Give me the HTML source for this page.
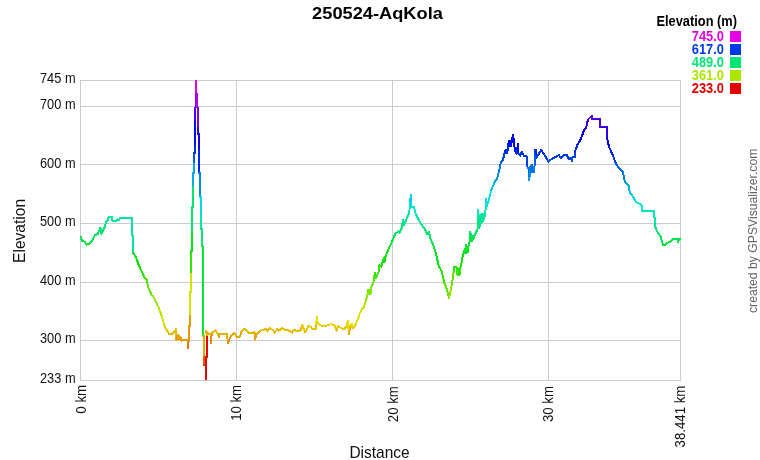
<!DOCTYPE html>
<html><head><meta charset="utf-8"><title>250524-AqKola</title>
<style>
html,body{margin:0;padding:0;background:#fff;}
body{width:760px;height:460px;overflow:hidden;font-family:"Liberation Sans",sans-serif;}
svg{display:block;font-family:"Liberation Sans",sans-serif;will-change:transform;}
</style></head><body>
<svg width="760" height="460" viewBox="0 0 760 460">
<rect width="760" height="460" fill="#fff"/>
<g stroke="#cccccc" stroke-width="1" fill="none" shape-rendering="crispEdges">
<rect x="80.5" y="80.5" width="600" height="300"/>
<line x1="80" y1="106.5" x2="681" y2="106.5"/>
<line x1="80" y1="164.5" x2="681" y2="164.5"/>
<line x1="80" y1="223.5" x2="681" y2="223.5"/>
<line x1="80" y1="282.5" x2="681" y2="282.5"/>
<line x1="80" y1="340.5" x2="681" y2="340.5"/>
<line x1="236.5" y1="80" x2="236.5" y2="381"/>
<line x1="392.5" y1="80" x2="392.5" y2="381"/>
<line x1="548.5" y1="80" x2="548.5" y2="381"/>
</g>
<g fill="#111" font-size="13.8">
<text x="75.6" y="82.7" text-anchor="end" textLength="35.6" lengthAdjust="spacingAndGlyphs">745 m</text>
<text x="75.6" y="109.1" text-anchor="end" textLength="35.6" lengthAdjust="spacingAndGlyphs">700 m</text>
<text x="75.6" y="167.7" text-anchor="end" textLength="35.6" lengthAdjust="spacingAndGlyphs">600 m</text>
<text x="75.6" y="226.3" text-anchor="end" textLength="35.6" lengthAdjust="spacingAndGlyphs">500 m</text>
<text x="75.6" y="284.8" text-anchor="end" textLength="35.6" lengthAdjust="spacingAndGlyphs">400 m</text>
<text x="75.6" y="343.4" text-anchor="end" textLength="35.6" lengthAdjust="spacingAndGlyphs">300 m</text>
<text x="75.6" y="382.7" text-anchor="end" textLength="35.6" lengthAdjust="spacingAndGlyphs">233 m</text>
<text transform="translate(85.5,384.9) rotate(-90)" text-anchor="end" textLength="28.8" lengthAdjust="spacingAndGlyphs">0 km</text>
<text transform="translate(241.1,384.9) rotate(-90)" text-anchor="end" textLength="35.9" lengthAdjust="spacingAndGlyphs">10 km</text>
<text transform="translate(397.8,386.3) rotate(-90)" text-anchor="end" textLength="35.9" lengthAdjust="spacingAndGlyphs">20 km</text>
<text transform="translate(553.3,386.1) rotate(-90)" text-anchor="end" textLength="35.9" lengthAdjust="spacingAndGlyphs">30 km</text>
<text transform="translate(685.4,385.6) rotate(-90)" text-anchor="end" textLength="61.8" lengthAdjust="spacingAndGlyphs">38.441 km</text>
</g>
<text x="377.5" y="18.5" text-anchor="middle" font-weight="bold" font-size="17.3" fill="#000" textLength="130.8" lengthAdjust="spacingAndGlyphs">250524-AqKola</text>
<text x="379.5" y="457.5" text-anchor="middle" font-size="17" fill="#111" textLength="60.2" lengthAdjust="spacingAndGlyphs">Distance</text>
<text transform="translate(25.0,230.9) rotate(-90)" text-anchor="middle" font-size="17" fill="#111" textLength="64" lengthAdjust="spacingAndGlyphs">Elevation</text>
<text transform="translate(757.0,313.0) rotate(-90)" text-anchor="start" font-size="12.8" fill="#666" textLength="164.4" lengthAdjust="spacingAndGlyphs">created by GPSVisualizer.com</text>
<text x="737" y="26" text-anchor="end" font-weight="bold" font-size="14.3" fill="#000" textLength="80.5" lengthAdjust="spacingAndGlyphs">Elevation (m)</text>
<rect x="730" y="31" width="11" height="11" fill="#e600e6"/>
<text x="724" y="41.3" text-anchor="end" fill="#e600e6" font-weight="bold" font-size="13.9" textLength="32.2" lengthAdjust="spacingAndGlyphs">745.0</text>
<rect x="730" y="44" width="11" height="11" fill="#0039e6"/>
<text x="724" y="54.3" text-anchor="end" fill="#0039e6" font-weight="bold" font-size="13.9" textLength="32.2" lengthAdjust="spacingAndGlyphs">617.0</text>
<rect x="730" y="57" width="11" height="11" fill="#00e673"/>
<text x="724" y="67.3" text-anchor="end" fill="#00e673" font-weight="bold" font-size="13.9" textLength="32.2" lengthAdjust="spacingAndGlyphs">489.0</text>
<rect x="730" y="70" width="11" height="11" fill="#ace600"/>
<text x="724" y="80.3" text-anchor="end" fill="#ace600" font-weight="bold" font-size="13.9" textLength="32.2" lengthAdjust="spacingAndGlyphs">361.0</text>
<rect x="730" y="83" width="11" height="11" fill="#e60000"/>
<text x="724" y="93.3" text-anchor="end" fill="#e60000" font-weight="bold" font-size="13.9" textLength="32.2" lengthAdjust="spacingAndGlyphs">233.0</text>
<g stroke-width="2" stroke-linecap="round" fill="none" shape-rendering="crispEdges">
<line x1="80.6" y1="236.8" x2="82" y2="240.8" stroke="#00e659"/>
<line x1="82" y1="240.8" x2="84.6" y2="241.8" stroke="#00e649"/>
<line x1="84.6" y1="241.8" x2="86.5" y2="244.5" stroke="#00e646"/>
<line x1="86.5" y1="244.5" x2="89.2" y2="244" stroke="#00e63b"/>
<line x1="89.2" y1="244" x2="91.8" y2="241.4" stroke="#00e63d"/>
<line x1="91.8" y1="241.4" x2="95.1" y2="234.9" stroke="#00e647"/>
<line x1="95.1" y1="234.9" x2="97.7" y2="234.2" stroke="#00e660"/>
<line x1="97.7" y1="234.2" x2="100.4" y2="227.6" stroke="#00e663"/>
<line x1="100.4" y1="227.6" x2="101.4" y2="233.5" stroke="#00e67c"/>
<line x1="101.4" y1="233.5" x2="104.3" y2="228.3" stroke="#00e665"/>
<line x1="104.3" y1="228.3" x2="106.3" y2="221.7" stroke="#00e679"/>
<line x1="106.3" y1="221.7" x2="107.6" y2="220.4" stroke="#00e692"/>
<line x1="107.6" y1="220.4" x2="108.5" y2="217.1" stroke="#00e697"/>
<line x1="108.5" y1="217.1" x2="112" y2="217.1" stroke="#00e6a4"/>
<line x1="112" y1="217.1" x2="112.2" y2="220.6" stroke="#00e6a4"/>
<line x1="112.2" y1="220.6" x2="116.8" y2="220.6" stroke="#00e697"/>
<line x1="116.8" y1="220.6" x2="117.5" y2="219.5" stroke="#00e697"/>
<line x1="117.5" y1="219.5" x2="118.8" y2="220.4" stroke="#00e69b"/>
<line x1="118.8" y1="220.4" x2="119.8" y2="218" stroke="#00e697"/>
<line x1="119.8" y1="218" x2="132" y2="218" stroke="#00e6a1"/>
<line x1="132" y1="218" x2="132" y2="234.9" stroke="#00e6a1"/>
<line x1="132" y1="234.9" x2="133" y2="235.5" stroke="#00e6a1"/>
<line x1="133" y1="235.5" x2="133" y2="252.6" stroke="#00e6a1"/>
<line x1="133" y1="252.6" x2="135.9" y2="257.1" stroke="#00e61c"/>
<line x1="135.9" y1="257.1" x2="138.5" y2="264.3" stroke="#00e60b"/>
<line x1="138.5" y1="264.3" x2="141.2" y2="270.3" stroke="#10e600"/>
<line x1="141.2" y1="270.3" x2="144.4" y2="277.5" stroke="#27e600"/>
<line x1="144.4" y1="277.5" x2="147.1" y2="279.5" stroke="#43e600"/>
<line x1="147.1" y1="279.5" x2="147.7" y2="286" stroke="#4be600"/>
<line x1="147.7" y1="286" x2="151.7" y2="295.3" stroke="#63e600"/>
<line x1="151.7" y1="295.3" x2="153.2" y2="296.3" stroke="#87e600"/>
<line x1="153.2" y1="296.3" x2="158.4" y2="306.8" stroke="#8be600"/>
<line x1="158.4" y1="306.8" x2="161.7" y2="316" stroke="#b3e600"/>
<line x1="161.7" y1="316" x2="165" y2="327.2" stroke="#d6e600"/>
<line x1="165" y1="327.2" x2="168.9" y2="333.8" stroke="#e6ca00"/>
<line x1="168.9" y1="333.8" x2="172.2" y2="333.8" stroke="#e6b100"/>
<line x1="172.2" y1="333.8" x2="176.2" y2="329.2" stroke="#e6b100"/>
<line x1="176.2" y1="329.2" x2="176.2" y2="339.7" stroke="#e6c200"/>
<line x1="176.2" y1="339.7" x2="177.5" y2="335.1" stroke="#e69a00"/>
<line x1="177.5" y1="335.1" x2="178" y2="339" stroke="#e6ac00"/>
<line x1="178" y1="339" x2="178.6" y2="335.5" stroke="#e69d00"/>
<line x1="178.6" y1="335.5" x2="179.2" y2="339.5" stroke="#e6aa00"/>
<line x1="179.2" y1="339.5" x2="179.8" y2="336.5" stroke="#e69b00"/>
<line x1="179.8" y1="336.5" x2="180.4" y2="340" stroke="#e6a600"/>
<line x1="180.4" y1="340" x2="180.8" y2="337.8" stroke="#e69900"/>
<line x1="180.8" y1="337.8" x2="181.4" y2="341" stroke="#e6a100"/>
<line x1="181.4" y1="341" x2="183.4" y2="339.7" stroke="#e69500"/>
<line x1="183.4" y1="339.7" x2="187.4" y2="339.7" stroke="#e69a00"/>
<line x1="187.4" y1="339.7" x2="188" y2="348.3" stroke="#e69a00"/>
<line x1="188" y1="348.3" x2="188.7" y2="339.7" stroke="#e67900"/>
<line x1="188.7" y1="339.7" x2="189" y2="340" stroke="#e69a00"/>
<line x1="189" y1="340" x2="189" y2="326" stroke="#e69900"/>
<line x1="189" y1="326" x2="190" y2="326" stroke="#e69900"/>
<line x1="190" y1="326" x2="190" y2="314" stroke="#e69900"/>
<line x1="190" y1="314" x2="190" y2="292" stroke="#cfe600"/>
<line x1="190" y1="292" x2="191" y2="292" stroke="#cfe600"/>
<line x1="191" y1="292" x2="191" y2="272" stroke="#cfe600"/>
<line x1="191" y1="272" x2="191" y2="251" stroke="#2ee600"/>
<line x1="191" y1="251" x2="192" y2="251" stroke="#00e622"/>
<line x1="192" y1="251" x2="192" y2="231" stroke="#00e622"/>
<line x1="192" y1="231" x2="192" y2="207" stroke="#00e66f"/>
<line x1="192" y1="207" x2="193" y2="207" stroke="#00e66f"/>
<line x1="193" y1="207" x2="193" y2="185" stroke="#00e66f"/>
<line x1="193" y1="185" x2="193" y2="173" stroke="#00ace6"/>
<line x1="193" y1="173" x2="194" y2="173" stroke="#00ace6"/>
<line x1="194" y1="173" x2="194" y2="162.5" stroke="#00ace6"/>
<line x1="194" y1="162.5" x2="194" y2="153" stroke="#0056e6"/>
<line x1="194" y1="153" x2="195" y2="153" stroke="#0032e6"/>
<line x1="195" y1="153" x2="195" y2="145" stroke="#0032e6"/>
<line x1="195" y1="145" x2="195" y2="120" stroke="#0013e6"/>
<line x1="195" y1="120" x2="195" y2="107.5" stroke="#4c00e6"/>
<line x1="195" y1="107.5" x2="196" y2="107.5" stroke="#7c00e6"/>
<line x1="196" y1="107.5" x2="196" y2="93" stroke="#7c00e6"/>
<line x1="196" y1="93" x2="196" y2="81" stroke="#b400e6"/>
<line x1="196" y1="81" x2="196" y2="93" stroke="#e200e6"/>
<line x1="196" y1="93" x2="196.6" y2="93" stroke="#b400e6"/>
<line x1="196.6" y1="93" x2="196.6" y2="107.5" stroke="#b400e6"/>
<line x1="196.6" y1="107.5" x2="198" y2="107.5" stroke="#7c00e6"/>
<line x1="198" y1="107.5" x2="198" y2="128" stroke="#7c00e6"/>
<line x1="198" y1="128" x2="198" y2="134" stroke="#2e00e6"/>
<line x1="198" y1="134" x2="199" y2="134" stroke="#1700e6"/>
<line x1="199" y1="134" x2="199" y2="150" stroke="#1700e6"/>
<line x1="199" y1="150" x2="199" y2="173" stroke="#0026e6"/>
<line x1="199" y1="173" x2="200" y2="173" stroke="#007ee6"/>
<line x1="200" y1="173" x2="200" y2="178" stroke="#007ee6"/>
<line x1="200" y1="178" x2="200" y2="197" stroke="#0091e6"/>
<line x1="200" y1="197" x2="201" y2="197" stroke="#00dae6"/>
<line x1="201" y1="197" x2="201" y2="215" stroke="#00dae6"/>
<line x1="201" y1="215" x2="201" y2="229" stroke="#00e6ac"/>
<line x1="201" y1="229" x2="202" y2="229" stroke="#00e677"/>
<line x1="202" y1="229" x2="202" y2="246.6" stroke="#00e677"/>
<line x1="202" y1="246.6" x2="203" y2="246.6" stroke="#00e633"/>
<line x1="203" y1="246.6" x2="203" y2="336" stroke="#00e633"/>
<line x1="203" y1="336" x2="204" y2="336" stroke="#e6a800"/>
<line x1="204" y1="336" x2="204" y2="357" stroke="#e6a800"/>
<line x1="204" y1="357" x2="204" y2="365" stroke="#e65800"/>
<line x1="204" y1="365" x2="206" y2="365" stroke="#e63900"/>
<line x1="206" y1="365" x2="206" y2="379" stroke="#e63900"/>
<line x1="206" y1="379" x2="206" y2="357" stroke="#e60400"/>
<line x1="206" y1="357" x2="206.7" y2="357" stroke="#e60400"/>
<line x1="206.7" y1="357" x2="206.7" y2="335" stroke="#e60400"/>
<line x1="206.7" y1="335" x2="205.8" y2="331.2" stroke="#e6ac00"/>
<line x1="205.8" y1="331.2" x2="208.4" y2="333.8" stroke="#e6bb00"/>
<line x1="208.4" y1="333.8" x2="211" y2="333.8" stroke="#e6b100"/>
<line x1="211" y1="333.8" x2="211" y2="343" stroke="#e6b100"/>
<line x1="211" y1="343" x2="211.7" y2="333.2" stroke="#e68e00"/>
<line x1="211.7" y1="333.2" x2="215.7" y2="330.5" stroke="#e6b300"/>
<line x1="215.7" y1="330.5" x2="219" y2="337" stroke="#e6bd00"/>
<line x1="219" y1="337" x2="219" y2="333.8" stroke="#e6a400"/>
<line x1="219" y1="333.8" x2="227" y2="334" stroke="#e6b100"/>
<line x1="227" y1="334" x2="227.9" y2="343.2" stroke="#e6b000"/>
<line x1="227.9" y1="343.2" x2="230.9" y2="335.9" stroke="#e68d00"/>
<line x1="230.9" y1="335.9" x2="234.2" y2="332.6" stroke="#e6a900"/>
<line x1="234.2" y1="332.6" x2="236.2" y2="336.6" stroke="#e6b500"/>
<line x1="236.2" y1="336.6" x2="240.1" y2="336.6" stroke="#e6a600"/>
<line x1="240.1" y1="336.6" x2="241.4" y2="331.3" stroke="#e6a600"/>
<line x1="241.4" y1="331.3" x2="244.7" y2="328.7" stroke="#e6ba00"/>
<line x1="244.7" y1="328.7" x2="248.7" y2="332.6" stroke="#e6c400"/>
<line x1="248.7" y1="332.6" x2="252" y2="333.3" stroke="#e6b500"/>
<line x1="252" y1="333.3" x2="254.6" y2="332" stroke="#e6b300"/>
<line x1="254.6" y1="332" x2="255" y2="339.2" stroke="#e6b800"/>
<line x1="255" y1="339.2" x2="256.6" y2="334" stroke="#e69c00"/>
<line x1="256.6" y1="334" x2="259.9" y2="330.7" stroke="#e6b000"/>
<line x1="259.9" y1="330.7" x2="263.2" y2="330" stroke="#e6bd00"/>
<line x1="263.2" y1="330" x2="266.4" y2="328.7" stroke="#e6bf00"/>
<line x1="266.4" y1="328.7" x2="267.1" y2="331.3" stroke="#e6c400"/>
<line x1="267.1" y1="331.3" x2="269.7" y2="328" stroke="#e6ba00"/>
<line x1="269.7" y1="328" x2="273" y2="330" stroke="#e6c700"/>
<line x1="273" y1="330" x2="274.3" y2="332.6" stroke="#e6bf00"/>
<line x1="274.3" y1="332.6" x2="277" y2="329.3" stroke="#e6b500"/>
<line x1="277" y1="329.3" x2="278.9" y2="330.7" stroke="#e6c200"/>
<line x1="278.9" y1="330.7" x2="281.6" y2="328" stroke="#e6bd00"/>
<line x1="281.6" y1="328" x2="285.5" y2="330" stroke="#e6c700"/>
<line x1="285.5" y1="330" x2="289.5" y2="330.7" stroke="#e6bf00"/>
<line x1="289.5" y1="330.7" x2="292.1" y2="332.6" stroke="#e6bd00"/>
<line x1="292.1" y1="332.6" x2="294.1" y2="330" stroke="#e6b500"/>
<line x1="294.1" y1="330" x2="297.4" y2="331.3" stroke="#e6bf00"/>
<line x1="297.4" y1="331.3" x2="300.7" y2="330" stroke="#e6ba00"/>
<line x1="300.7" y1="330" x2="302.4" y2="324.7" stroke="#e6bf00"/>
<line x1="302.4" y1="324.7" x2="303.3" y2="328" stroke="#e6d400"/>
<line x1="303.3" y1="328" x2="305" y2="332.6" stroke="#e6c700"/>
<line x1="305" y1="332.6" x2="306.6" y2="330" stroke="#e6b500"/>
<line x1="306.6" y1="330" x2="308.2" y2="326" stroke="#e6bf00"/>
<line x1="308.2" y1="326" x2="310.5" y2="326.7" stroke="#e6cf00"/>
<line x1="310.5" y1="326.7" x2="312.5" y2="329.3" stroke="#e6cc00"/>
<line x1="312.5" y1="329.3" x2="315.8" y2="329.3" stroke="#e6c200"/>
<line x1="315.8" y1="329.3" x2="316.4" y2="323.4" stroke="#e6c200"/>
<line x1="316.4" y1="323.4" x2="316.8" y2="316.6" stroke="#e6d800"/>
<line x1="316.8" y1="316.6" x2="317.4" y2="322.5" stroke="#d8e600"/>
<line x1="317.4" y1="322.5" x2="320.3" y2="325.3" stroke="#e6dc00"/>
<line x1="320.3" y1="325.3" x2="324.2" y2="326.5" stroke="#e6d100"/>
<line x1="324.2" y1="326.5" x2="326.8" y2="325.5" stroke="#e6cd00"/>
<line x1="326.8" y1="325.5" x2="330.8" y2="324.2" stroke="#e6d000"/>
<line x1="330.8" y1="324.2" x2="334.7" y2="325.5" stroke="#e6d500"/>
<line x1="334.7" y1="325.5" x2="336.7" y2="330.8" stroke="#e6d000"/>
<line x1="336.7" y1="330.8" x2="338" y2="326.2" stroke="#e6bc00"/>
<line x1="338" y1="326.2" x2="341.3" y2="328.2" stroke="#e6ce00"/>
<line x1="341.3" y1="328.2" x2="343.9" y2="329.5" stroke="#e6c600"/>
<line x1="343.9" y1="329.5" x2="346.6" y2="326.2" stroke="#e6c100"/>
<line x1="346.6" y1="326.2" x2="347.9" y2="320.9" stroke="#e6ce00"/>
<line x1="347.9" y1="320.9" x2="348.9" y2="334.1" stroke="#e6e200"/>
<line x1="348.9" y1="334.1" x2="350.5" y2="325.5" stroke="#e6b000"/>
<line x1="350.5" y1="325.5" x2="351.8" y2="323.6" stroke="#e6d000"/>
<line x1="351.8" y1="323.6" x2="352.5" y2="328.2" stroke="#e6d800"/>
<line x1="352.5" y1="328.2" x2="354.5" y2="326.8" stroke="#e6c600"/>
<line x1="354.5" y1="326.8" x2="355.8" y2="323.6" stroke="#e6cb00"/>
<line x1="355.8" y1="323.6" x2="357.8" y2="319.6" stroke="#e6d800"/>
<line x1="357.8" y1="319.6" x2="359.7" y2="313.7" stroke="#e4e600"/>
<line x1="359.7" y1="313.7" x2="361.1" y2="310.4" stroke="#cde600"/>
<line x1="361.1" y1="310.4" x2="363.7" y2="307.1" stroke="#c1e600"/>
<line x1="363.7" y1="307.1" x2="365.7" y2="301.8" stroke="#b4e600"/>
<line x1="365.7" y1="301.8" x2="367" y2="296.6" stroke="#a0e600"/>
<line x1="367" y1="296.6" x2="368.2" y2="289.7" stroke="#8ce600"/>
<line x1="368.2" y1="289.7" x2="368.8" y2="294.5" stroke="#72e600"/>
<line x1="368.8" y1="294.5" x2="369.4" y2="290" stroke="#84e600"/>
<line x1="369.4" y1="290" x2="370" y2="294.5" stroke="#73e600"/>
<line x1="370" y1="294.5" x2="370.8" y2="293" stroke="#84e600"/>
<line x1="370.8" y1="293" x2="371.4" y2="287.1" stroke="#7ee600"/>
<line x1="371.4" y1="287.1" x2="374.1" y2="280.5" stroke="#68e600"/>
<line x1="374.1" y1="280.5" x2="374.7" y2="272.6" stroke="#4ee600"/>
<line x1="374.7" y1="272.6" x2="376" y2="277.9" stroke="#30e600"/>
<line x1="376" y1="277.9" x2="378.7" y2="271.3" stroke="#44e600"/>
<line x1="378.7" y1="271.3" x2="379.3" y2="265.4" stroke="#2be600"/>
<line x1="379.3" y1="265.4" x2="381.3" y2="266.5" stroke="#15e600"/>
<line x1="381.3" y1="266.5" x2="383.3" y2="259.5" stroke="#19e600"/>
<line x1="383.3" y1="259.5" x2="383.9" y2="262.5" stroke="#00e602"/>
<line x1="383.9" y1="262.5" x2="384.5" y2="257.5" stroke="#0ae600"/>
<line x1="384.5" y1="257.5" x2="385" y2="261" stroke="#00e60a"/>
<line x1="385" y1="261" x2="385.6" y2="256.2" stroke="#04e600"/>
<line x1="385.6" y1="256.2" x2="387.9" y2="250.3" stroke="#00e60f"/>
<line x1="387.9" y1="250.3" x2="391.7" y2="242.6" stroke="#00e625"/>
<line x1="391.7" y1="242.6" x2="395" y2="234.1" stroke="#00e643"/>
<line x1="395" y1="234.1" x2="398.3" y2="231.4" stroke="#00e663"/>
<line x1="398.3" y1="231.4" x2="399.6" y2="232.8" stroke="#00e66d"/>
<line x1="399.6" y1="232.8" x2="402.2" y2="226.8" stroke="#00e668"/>
<line x1="402.2" y1="226.8" x2="402.9" y2="219.6" stroke="#00e67f"/>
<line x1="402.9" y1="219.6" x2="404.2" y2="224.9" stroke="#00e69b"/>
<line x1="404.2" y1="224.9" x2="406.8" y2="218.3" stroke="#00e686"/>
<line x1="406.8" y1="218.3" x2="408.8" y2="213.7" stroke="#00e6a0"/>
<line x1="408.8" y1="213.7" x2="409.5" y2="209.7" stroke="#00e6b1"/>
<line x1="409.5" y1="209.7" x2="410.2" y2="199.2" stroke="#00e6c0"/>
<line x1="410.2" y1="199.2" x2="411" y2="195.2" stroke="#00e2e6"/>
<line x1="411" y1="195.2" x2="411.3" y2="207.1" stroke="#00d3e6"/>
<line x1="411.3" y1="207.1" x2="414.1" y2="207.1" stroke="#00e6ca"/>
<line x1="414.1" y1="207.1" x2="416.1" y2="215" stroke="#00e6ca"/>
<line x1="416.1" y1="215" x2="418.7" y2="219.6" stroke="#00e6ac"/>
<line x1="418.7" y1="219.6" x2="422" y2="225.5" stroke="#00e69b"/>
<line x1="422" y1="225.5" x2="424.6" y2="228.8" stroke="#00e684"/>
<line x1="424.6" y1="228.8" x2="427.2" y2="234.1" stroke="#00e677"/>
<line x1="427.2" y1="234.1" x2="428.9" y2="232.1" stroke="#00e663"/>
<line x1="428.9" y1="232.1" x2="430.5" y2="238.7" stroke="#00e66b"/>
<line x1="430.5" y1="238.7" x2="433.2" y2="245.3" stroke="#00e651"/>
<line x1="433.2" y1="245.3" x2="435.9" y2="253.2" stroke="#00e638"/>
<line x1="435.9" y1="253.2" x2="438.6" y2="265.5" stroke="#00e61a"/>
<line x1="438.6" y1="265.5" x2="441.8" y2="271.8" stroke="#15e600"/>
<line x1="441.8" y1="271.8" x2="444.5" y2="283.4" stroke="#2de600"/>
<line x1="444.5" y1="283.4" x2="445.8" y2="285.8" stroke="#5ae600"/>
<line x1="445.8" y1="285.8" x2="449" y2="297.8" stroke="#63e600"/>
<line x1="449" y1="297.8" x2="451.9" y2="284.6" stroke="#91e600"/>
<line x1="451.9" y1="284.6" x2="453.7" y2="271.3" stroke="#5ee600"/>
<line x1="453.7" y1="271.3" x2="454.3" y2="267" stroke="#2be600"/>
<line x1="454.3" y1="267" x2="456.5" y2="267.5" stroke="#1be600"/>
<line x1="456.5" y1="267.5" x2="457" y2="274.5" stroke="#1de600"/>
<line x1="457" y1="274.5" x2="457.6" y2="268.5" stroke="#37e600"/>
<line x1="457.6" y1="268.5" x2="458.2" y2="275" stroke="#21e600"/>
<line x1="458.2" y1="275" x2="458.9" y2="268.5" stroke="#39e600"/>
<line x1="458.9" y1="268.5" x2="459.5" y2="275" stroke="#21e600"/>
<line x1="459.5" y1="275" x2="460.1" y2="268" stroke="#39e600"/>
<line x1="460.1" y1="268" x2="460.9" y2="266.3" stroke="#1fe600"/>
<line x1="460.9" y1="266.3" x2="462.9" y2="254.5" stroke="#18e600"/>
<line x1="462.9" y1="254.5" x2="464" y2="253" stroke="#00e615"/>
<line x1="464" y1="253" x2="464.6" y2="249.5" stroke="#00e61b"/>
<line x1="464.6" y1="249.5" x2="465.2" y2="253.5" stroke="#00e628"/>
<line x1="465.2" y1="253.5" x2="466.2" y2="245.3" stroke="#00e619"/>
<line x1="466.2" y1="245.3" x2="466.5" y2="253.2" stroke="#00e638"/>
<line x1="466.5" y1="253.2" x2="467.2" y2="247" stroke="#00e61a"/>
<line x1="467.2" y1="247" x2="467.6" y2="252.5" stroke="#00e632"/>
<line x1="467.6" y1="252.5" x2="468.3" y2="247" stroke="#00e61d"/>
<line x1="468.3" y1="247" x2="469.6" y2="242" stroke="#00e632"/>
<line x1="469.6" y1="242" x2="470.3" y2="232.1" stroke="#00e645"/>
<line x1="470.3" y1="232.1" x2="470.8" y2="241" stroke="#00e66b"/>
<line x1="470.8" y1="241" x2="471.5" y2="234.5" stroke="#00e649"/>
<line x1="471.5" y1="234.5" x2="472.2" y2="241.3" stroke="#00e662"/>
<line x1="472.2" y1="241.3" x2="473" y2="235.5" stroke="#00e648"/>
<line x1="473" y1="235.5" x2="473.5" y2="238.5" stroke="#00e65e"/>
<line x1="473.5" y1="238.5" x2="474.9" y2="234.7" stroke="#00e652"/>
<line x1="474.9" y1="234.7" x2="477.5" y2="229.5" stroke="#00e661"/>
<line x1="477.5" y1="229.5" x2="478.2" y2="209.7" stroke="#00e675"/>
<line x1="478.2" y1="209.7" x2="478.7" y2="228" stroke="#00e6c0"/>
<line x1="478.7" y1="228" x2="479.5" y2="215.5" stroke="#00e67a"/>
<line x1="479.5" y1="215.5" x2="480" y2="226" stroke="#00e6aa"/>
<line x1="480" y1="226" x2="480.8" y2="215" stroke="#00e682"/>
<line x1="480.8" y1="215" x2="481.5" y2="223.5" stroke="#00e6ac"/>
<line x1="481.5" y1="223.5" x2="482.3" y2="214" stroke="#00e68c"/>
<line x1="482.3" y1="214" x2="483" y2="221" stroke="#00e6b0"/>
<line x1="483" y1="221" x2="483.8" y2="213.5" stroke="#00e695"/>
<line x1="483.8" y1="213.5" x2="484.1" y2="218.9" stroke="#00e6b2"/>
<line x1="484.1" y1="218.9" x2="485.4" y2="212.4" stroke="#00e69d"/>
<line x1="485.4" y1="212.4" x2="486" y2="198.6" stroke="#00e6b6"/>
<line x1="486" y1="198.6" x2="486.5" y2="207" stroke="#00e0e6"/>
<line x1="486.5" y1="207" x2="487.1" y2="205.8" stroke="#00e6cb"/>
<line x1="487.1" y1="205.8" x2="489.3" y2="197.9" stroke="#00e6cf"/>
<line x1="489.3" y1="197.9" x2="491.5" y2="189.6" stroke="#00dde6"/>
<line x1="491.5" y1="189.6" x2="495.1" y2="181.3" stroke="#00bee6"/>
<line x1="495.1" y1="181.3" x2="497.1" y2="178.7" stroke="#009ee6"/>
<line x1="497.1" y1="178.7" x2="499.1" y2="170.8" stroke="#0094e6"/>
<line x1="499.1" y1="170.8" x2="501.1" y2="161.6" stroke="#0076e6"/>
<line x1="501.1" y1="161.6" x2="503" y2="159.6" stroke="#0053e6"/>
<line x1="503" y1="159.6" x2="505" y2="151.1" stroke="#004be6"/>
<line x1="505" y1="151.1" x2="505.5" y2="153" stroke="#002ae6"/>
<line x1="505.5" y1="153" x2="506.2" y2="150" stroke="#0032e6"/>
<line x1="506.2" y1="150" x2="506.8" y2="153" stroke="#0026e6"/>
<line x1="506.8" y1="153" x2="507.6" y2="150.4" stroke="#0032e6"/>
<line x1="507.6" y1="150.4" x2="508.9" y2="140.5" stroke="#0028e6"/>
<line x1="508.9" y1="140.5" x2="509.3" y2="146.5" stroke="#0002e6"/>
<line x1="509.3" y1="146.5" x2="509.8" y2="140.5" stroke="#0019e6"/>
<line x1="509.8" y1="140.5" x2="510.3" y2="146.5" stroke="#0002e6"/>
<line x1="510.3" y1="146.5" x2="510.8" y2="140.5" stroke="#0019e6"/>
<line x1="510.8" y1="140.5" x2="511.3" y2="146" stroke="#0002e6"/>
<line x1="511.3" y1="146" x2="511.8" y2="139.5" stroke="#0017e6"/>
<line x1="511.8" y1="139.5" x2="512.9" y2="135.3" stroke="#0200e6"/>
<line x1="512.9" y1="135.3" x2="513.9" y2="139.9" stroke="#1200e6"/>
<line x1="513.9" y1="139.9" x2="514.9" y2="151.1" stroke="#0000e6"/>
<line x1="514.9" y1="151.1" x2="516.8" y2="153.7" stroke="#002ae6"/>
<line x1="516.8" y1="153.7" x2="517.9" y2="143.8" stroke="#0034e6"/>
<line x1="517.9" y1="143.8" x2="518.4" y2="153.7" stroke="#000fe6"/>
<line x1="518.4" y1="153.7" x2="520.1" y2="155.7" stroke="#0034e6"/>
<line x1="520.1" y1="155.7" x2="521.8" y2="151.7" stroke="#003ce6"/>
<line x1="521.8" y1="151.7" x2="524.1" y2="156.3" stroke="#002de6"/>
<line x1="524.1" y1="156.3" x2="526.7" y2="156.3" stroke="#003ee6"/>
<line x1="526.7" y1="156.3" x2="527.4" y2="166.8" stroke="#003ee6"/>
<line x1="527.4" y1="166.8" x2="529.3" y2="170.8" stroke="#0067e6"/>
<line x1="529.3" y1="170.8" x2="529.3" y2="180" stroke="#0076e6"/>
<line x1="529.3" y1="180" x2="530" y2="172" stroke="#0099e6"/>
<line x1="530" y1="172" x2="530.5" y2="166" stroke="#007ae6"/>
<line x1="530.5" y1="166" x2="531" y2="172" stroke="#0063e6"/>
<line x1="531" y1="172" x2="531.5" y2="165" stroke="#007ae6"/>
<line x1="531.5" y1="165" x2="532" y2="172" stroke="#0060e6"/>
<line x1="532" y1="172" x2="532.5" y2="165.5" stroke="#007ae6"/>
<line x1="532.5" y1="165.5" x2="533" y2="172" stroke="#0062e6"/>
<line x1="533" y1="172" x2="533.9" y2="172.1" stroke="#007ae6"/>
<line x1="533.9" y1="172.1" x2="534.6" y2="164.9" stroke="#007be6"/>
<line x1="534.6" y1="164.9" x2="535.3" y2="149.7" stroke="#005fe6"/>
<line x1="535.3" y1="149.7" x2="536.3" y2="149.7" stroke="#0025e6"/>
<line x1="536.3" y1="149.7" x2="536.6" y2="157.6" stroke="#0025e6"/>
<line x1="536.6" y1="157.6" x2="541.2" y2="149.7" stroke="#0043e6"/>
<line x1="541.2" y1="149.7" x2="544.5" y2="155" stroke="#0025e6"/>
<line x1="544.5" y1="155" x2="548.4" y2="161.6" stroke="#0039e6"/>
<line x1="548.4" y1="161.6" x2="551.7" y2="158.9" stroke="#0053e6"/>
<line x1="551.7" y1="158.9" x2="555.7" y2="157" stroke="#0048e6"/>
<line x1="555.7" y1="157" x2="558.9" y2="155" stroke="#0041e6"/>
<line x1="558.9" y1="155" x2="560.9" y2="158.3" stroke="#0039e6"/>
<line x1="560.9" y1="158.3" x2="563.6" y2="155" stroke="#0046e6"/>
<line x1="563.6" y1="155" x2="566.8" y2="155" stroke="#0039e6"/>
<line x1="566.8" y1="155" x2="568.8" y2="158.9" stroke="#0039e6"/>
<line x1="568.8" y1="158.9" x2="570.8" y2="157.6" stroke="#0048e6"/>
<line x1="570.8" y1="157.6" x2="572.1" y2="160.9" stroke="#0043e6"/>
<line x1="572.1" y1="160.9" x2="572.5" y2="157" stroke="#0050e6"/>
<line x1="572.5" y1="157" x2="574.9" y2="157" stroke="#0041e6"/>
<line x1="574.9" y1="157" x2="575.2" y2="151.1" stroke="#0041e6"/>
<line x1="575.2" y1="151.1" x2="577.5" y2="144.5" stroke="#002ae6"/>
<line x1="577.5" y1="144.5" x2="580.8" y2="139.2" stroke="#0011e6"/>
<line x1="580.8" y1="139.2" x2="584.1" y2="130" stroke="#0300e6"/>
<line x1="584.1" y1="130" x2="586.1" y2="127.4" stroke="#2600e6"/>
<line x1="586.1" y1="127.4" x2="588" y2="119.5" stroke="#3000e6"/>
<line x1="588" y1="119.5" x2="590" y2="117.5" stroke="#4e00e6"/>
<line x1="590" y1="117.5" x2="592" y2="115.5" stroke="#5600e6"/>
<line x1="592" y1="115.5" x2="592" y2="118.8" stroke="#5e00e6"/>
<line x1="592" y1="118.8" x2="599.9" y2="118.8" stroke="#5100e6"/>
<line x1="599.9" y1="118.8" x2="599.9" y2="126.7" stroke="#5100e6"/>
<line x1="599.9" y1="126.7" x2="607.1" y2="126.7" stroke="#3300e6"/>
<line x1="607.1" y1="126.7" x2="607.1" y2="138.6" stroke="#3300e6"/>
<line x1="607.1" y1="138.6" x2="609.1" y2="147.1" stroke="#0500e6"/>
<line x1="609.1" y1="147.1" x2="613" y2="155.7" stroke="#001be6"/>
<line x1="613" y1="155.7" x2="615.8" y2="163.2" stroke="#003ce6"/>
<line x1="615.8" y1="163.2" x2="618.4" y2="167.8" stroke="#0059e6"/>
<line x1="618.4" y1="167.8" x2="623" y2="172.4" stroke="#006ae6"/>
<line x1="623" y1="172.4" x2="625" y2="182.2" stroke="#007ce6"/>
<line x1="625" y1="182.2" x2="628.9" y2="186.2" stroke="#00a1e6"/>
<line x1="628.9" y1="186.2" x2="629.6" y2="192.1" stroke="#00b1e6"/>
<line x1="629.6" y1="192.1" x2="632.9" y2="196.7" stroke="#00c7e6"/>
<line x1="632.9" y1="196.7" x2="636.2" y2="202" stroke="#00d9e6"/>
<line x1="636.2" y1="202" x2="639.5" y2="203.9" stroke="#00e6de"/>
<line x1="639.5" y1="203.9" x2="642.1" y2="206.5" stroke="#00e6d7"/>
<line x1="642.1" y1="206.5" x2="642.1" y2="210.8" stroke="#00e6cd"/>
<line x1="642.1" y1="210.8" x2="653.9" y2="210.8" stroke="#00e6bc"/>
<line x1="653.9" y1="210.8" x2="653.9" y2="217.1" stroke="#00e6bc"/>
<line x1="653.9" y1="217.1" x2="655" y2="218.4" stroke="#00e6a4"/>
<line x1="655" y1="218.4" x2="655" y2="226.3" stroke="#00e69f"/>
<line x1="655" y1="226.3" x2="657.9" y2="232.9" stroke="#00e681"/>
<line x1="657.9" y1="232.9" x2="660.5" y2="236.2" stroke="#00e668"/>
<line x1="660.5" y1="236.2" x2="662.5" y2="243.3" stroke="#00e65b"/>
<line x1="662.5" y1="243.3" x2="663" y2="244.8" stroke="#00e640"/>
<line x1="663" y1="244.8" x2="665.8" y2="244.5" stroke="#00e63a"/>
<line x1="665.8" y1="244.5" x2="667" y2="243" stroke="#00e63b"/>
<line x1="667" y1="243" x2="668.4" y2="242.4" stroke="#00e641"/>
<line x1="668.4" y1="242.4" x2="670.4" y2="242.4" stroke="#00e643"/>
<line x1="670.4" y1="242.4" x2="672.4" y2="239.2" stroke="#00e643"/>
<line x1="672.4" y1="239.2" x2="677.6" y2="239.2" stroke="#00e650"/>
<line x1="677.6" y1="239.2" x2="678" y2="242.1" stroke="#00e650"/>
<line x1="678" y1="242.1" x2="679" y2="238.8" stroke="#00e644"/>
<line x1="679" y1="238.8" x2="680.3" y2="238.8" stroke="#00e651"/>
</g>
</svg>
</body></html>
